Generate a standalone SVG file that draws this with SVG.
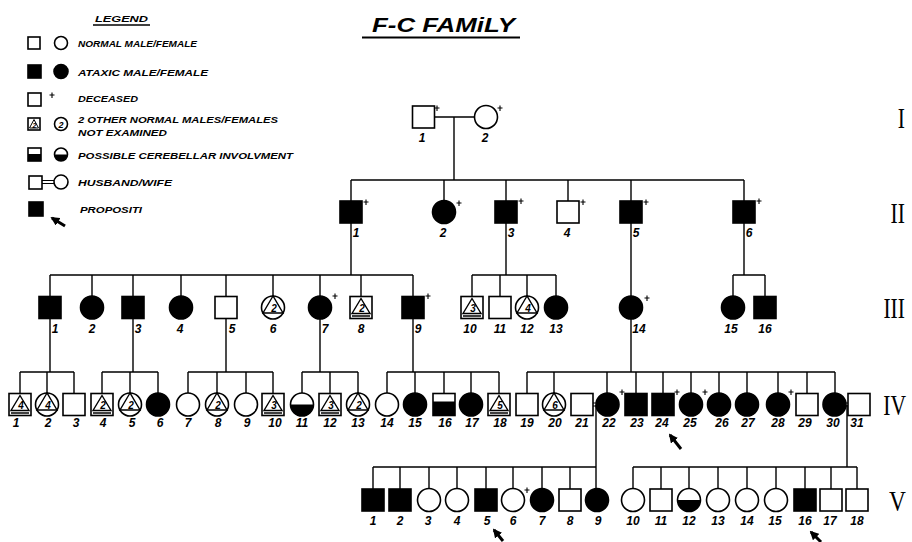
<svg xmlns="http://www.w3.org/2000/svg" width="912" height="542" viewBox="0 0 912 542">
<style>
.ln{stroke:#000;stroke-width:1.4;fill:none}
.o{fill:#fff;stroke:#000;stroke-width:1.6}
.f{fill:#000;stroke:#000;stroke-width:1.6}
.dm{stroke:#000;stroke-width:1.1;fill:none}
.lbl{font-family:"Liberation Sans",Arial,sans-serif;font-style:italic;font-weight:bold;font-size:12px;text-anchor:middle;fill:#000}
.num{font-family:"Liberation Sans",Arial,sans-serif;font-style:italic;font-weight:bold;font-size:10px;text-anchor:middle;fill:#000}
.leg{font-family:"Liberation Sans",Arial,sans-serif;font-style:italic;font-weight:bold;font-size:9.5px;fill:#000}
.rom{font-family:"Liberation Serif","Times New Roman",serif;font-size:30px;text-anchor:end;fill:#000}
.ttl{font-family:"Liberation Sans",Arial,sans-serif;font-style:italic;font-weight:bold;font-size:21px;fill:#000}
.arr{stroke:#000;stroke-width:3;fill:none}
</style>
<defs>
<rect id="sq" class="o" x="-11" y="-11" width="22" height="22"/>
<rect id="sqA" class="f" x="-11" y="-11" width="22" height="22"/>
<circle id="ci" class="o" r="11.5"/>
<circle id="ciA" class="f" r="11.5"/>
<g id="tsq"><rect class="o" x="-11" y="-11" width="22" height="22"/><path class="ln" d="M0,-9 L-9,6 L9,6 Z M-9,8.5 H9"/></g>
<g id="tci"><circle class="o" r="11.5"/><path class="ln" d="M0,-11.5 L-10,5.5 L10,5.5 Z"/></g>
<g id="hci"><circle class="o" r="11.5"/><path fill="#000" d="M-11.5,0 A11.5,11.5 0 0 0 11.5,0 Z"/></g>
<g id="hsq"><rect class="o" x="-11" y="-11" width="22" height="22"/><rect fill="#000" x="-11" y="-3" width="22" height="14"/></g>
<path id="dec" class="dm" d="M-2.5,0 H2.5 M0,-2.5 V3"/>
<marker id="ah" viewBox="0 0 10 10" refX="8" refY="5" markerWidth="3" markerHeight="3" orient="auto"><path d="M0,0 L10,5 L0,10 Z" fill="#000"/></marker>
</defs>

<!-- Legend -->
<g id="legend">
<text class="leg" x="95" y="22" textLength="53" lengthAdjust="spacingAndGlyphs">LEGEND</text>
<path class="ln" d="M93,25 H150"/>
<rect class="o" x="28" y="37" width="12" height="12"/><circle class="o" cx="61" cy="43" r="6.5"/>
<text class="leg" x="78" y="47" textLength="119" lengthAdjust="spacingAndGlyphs">NORMAL MALE/FEMALE</text>
<rect class="f" x="28" y="65" width="13" height="13"/><circle class="f" cx="61" cy="71.5" r="7"/>
<text class="leg" x="78" y="76" textLength="130" lengthAdjust="spacingAndGlyphs">ATAXIC MALE/FEMALE</text>
<rect class="o" x="28" y="93" width="13" height="13"/><use href="#dec" x="52" y="95"/>
<text class="leg" x="78" y="102" textLength="60" lengthAdjust="spacingAndGlyphs">DECEASED</text>
<rect class="o" x="28" y="118" width="12" height="12"/><path class="ln" d="M34,119.5 L29.5,128 H38.5 Z" style="stroke-width:1"/>
<text class="num" x="34.5" y="127.5" style="font-size:7px">2</text>
<circle class="o" cx="61" cy="124" r="6.5"/><text class="num" x="61" y="127.5" style="font-size:9px">2</text>
<text class="leg" x="78" y="123" textLength="200" lengthAdjust="spacingAndGlyphs">2 OTHER NORMAL MALES/FEMALES</text>
<text class="leg" x="78" y="136" textLength="89" lengthAdjust="spacingAndGlyphs">NOT EXAMINED</text>
<rect class="o" x="28" y="148" width="13" height="13"/><rect fill="#000" x="28" y="154" width="13" height="7"/>
<circle class="o" cx="61" cy="154.5" r="6.5"/><path fill="#000" d="M54.5,154.5 A6.5,6.5 0 0 0 67.5,154.5 Z"/>
<text class="leg" x="78" y="159" textLength="215" lengthAdjust="spacingAndGlyphs">POSSIBLE CEREBELLAR INVOLVMENT</text>
<rect class="o" x="29" y="176" width="13" height="13"/><path class="ln" d="M42,180.5 H54 M42,183.5 H54" style="stroke-width:1.1"/><circle class="o" cx="61" cy="182" r="7"/>
<text class="leg" x="78" y="186" textLength="94" lengthAdjust="spacingAndGlyphs">HUSBAND/WIFE</text>
<rect class="f" x="29" y="202" width="14" height="14"/>
<path class="arr" d="M65,226 L52,218" marker-end="url(#ah)"/>
<text class="leg" x="80" y="213" textLength="62" lengthAdjust="spacingAndGlyphs">PROPOSITI</text>
</g>

<!-- Title -->
<g id="title">
<text class="ttl" x="372" y="32" textLength="143" lengthAdjust="spacingAndGlyphs">F-C FAMiLY</text>
<path d="M362,37.5 H520" stroke="#000" stroke-width="2"/>
</g>

<!-- Generation labels -->
<g id="generations">
<text class="rom" transform="translate(905,128) scale(0.72,1)">I</text>
<text class="rom" transform="translate(905,223) scale(0.72,1)">II</text>
<text class="rom" transform="translate(905,318) scale(0.72,1)">III</text>
<text class="rom" transform="translate(906,415) scale(0.72,1)">IV</text>
<text class="rom" transform="translate(906,511) scale(0.78,1)">V</text>
</g>

<!-- Connectors -->
<g id="connectors" class="ln">
<path d="M434,117 H475 M454,117 V180"/>
<path d="M351,180 H744 M351,180 V201 M444,180 V201 M506,180 V201 M568,180 V201 M631,180 V201 M744,180 V201"/>
<path d="M351,223 V275 M506,223 V275 M631,223 V296 M744,223 V275"/>
<path d="M50,275 H413 M50,275 V297 M92,275 V296 M133,275 V297 M181,275 V296 M226,275 V297 M273,275 V296 M320,275 V296 M361,275 V297 M413,275 V297"/>
<path d="M472,275 H556 M472,275 V297 M500,275 V297 M527,275 V296 M556,275 V296"/>
<path d="M733,275 H765 M733,275 V296 M765,275 V297"/>
<path d="M50,318 V372 M133,318 V372 M226,318 V372 M320,319 V372 M413,318 V372 M631,319 V372"/>
<path d="M20,372 H74 M20,372 V394 M47,372 V393 M74,372 V394"/>
<path d="M102,372 H158 M102,372 V394 M130,372 V393 M158,372 V393"/>
<path d="M188,372 H273 M188,372 V393 M217,372 V393 M246,372 V393 M273,372 V394"/>
<path d="M302,372 H358 M302,372 V393 M330,372 V394 M358,372 V393"/>
<path d="M387,372 H499 M387,372 V393 M415,372 V393 M444,372 V394 M471,372 V393 M499,372 V394"/>
<path d="M527,372 H835 M527,372 V394 M554,372 V393 M607,372 V393 M636,372 V394 M663,372 V394 M691,372 V393 M719,372 V393 M747,372 V393 M778,372 V393 M807,372 V394 M835,372 V393"/>
<path d="M593,403 H596 M593,406 H596 M846,403 H848 M846,406 H848" style="stroke-width:1.1"/>
<path d="M596,405 V467 M847,405 V467"/>
<path d="M373,467 H596 M373,467 V489 M400,467 V489 M429,467 V488 M457,467 V488 M486,467 V489 M513,467 V488 M542,467 V488 M570,467 V489 M596,467 V488"/>
<path d="M633,467 H857 M633,467 V488 M661,467 V489 M689,467 V488 M718,467 V488 M747,467 V488 M776,467 V488 M805,467 V489 M831,467 V489 M857,467 V489"/>
<path class="arr" d="M681,449 L670,435" marker-end="url(#ah)"/>
<path class="arr" d="M503,541 L494,530" marker-end="url(#ah)"/>
<path class="arr" d="M821,542 L811,532" marker-end="url(#ah)"/>
</g>

<!-- Generation I -->
<g id="I-1"><use href="#sq" x="423.5" y="117"/><use href="#dec" x="437" y="108"/><text class="lbl" x="422" y="142">1</text></g>
<g id="I-2"><use href="#ci" x="486" y="117"/><use href="#dec" x="500" y="108"/><text class="lbl" x="485" y="142">2</text></g>

<!-- Generation II -->
<g id="II-1"><use href="#sqA" x="351" y="212"/><use href="#dec" x="366" y="202"/><text class="lbl" x="356" y="237">1</text></g>
<g id="II-2"><use href="#ciA" x="444" y="212"/><use href="#dec" x="459" y="203"/><text class="lbl" x="443" y="237">2</text></g>
<g id="II-3"><use href="#sqA" x="506" y="212"/><use href="#dec" x="521" y="201"/><text class="lbl" x="511" y="237">3</text></g>
<g id="II-4"><use href="#sq" x="568" y="212"/><use href="#dec" x="583" y="202"/><text class="lbl" x="567" y="237">4</text></g>
<g id="II-5"><use href="#sqA" x="631" y="212"/><use href="#dec" x="646" y="202"/><text class="lbl" x="636" y="237">5</text></g>
<g id="II-6"><use href="#sqA" x="744" y="212"/><use href="#dec" x="759" y="201"/><text class="lbl" x="749" y="237">6</text></g>

<!-- Generation III -->
<g id="III-1"><use href="#sqA" x="50" y="307.5"/><text class="lbl" x="55" y="333">1</text></g>
<g id="III-2"><use href="#ciA" x="92" y="307.5"/><text class="lbl" x="92" y="333">2</text></g>
<g id="III-3"><use href="#sqA" x="133" y="307.5"/><text class="lbl" x="138" y="333">3</text></g>
<g id="III-4"><use href="#ciA" x="181" y="307.5"/><text class="lbl" x="180" y="333">4</text></g>
<g id="III-5"><use href="#sq" x="226" y="307.5"/><text class="lbl" x="232" y="333">5</text></g>
<g id="III-6"><use href="#tci" x="273" y="307.5"/><text class="num" x="274" y="312">2</text><text class="lbl" x="273" y="333">6</text></g>
<g id="III-7"><use href="#ciA" x="320" y="307.5"/><use href="#dec" x="335" y="296"/><text class="lbl" x="325" y="333">7</text></g>
<g id="III-8"><use href="#tsq" x="361" y="307.5"/><text class="num" x="362" y="312">2</text><text class="lbl" x="361" y="333">8</text></g>
<g id="III-9"><use href="#sqA" x="413" y="307.5"/><use href="#dec" x="428" y="296"/><text class="lbl" x="418" y="333">9</text></g>
<g id="III-10"><use href="#tsq" x="472" y="307.5"/><text class="num" x="473" y="312">3</text><text class="lbl" x="470" y="333">10</text></g>
<g id="III-11"><use href="#sq" x="500" y="307.5"/><text class="lbl" x="500" y="333">11</text></g>
<g id="III-12"><use href="#tci" x="527" y="307.5"/><text class="num" x="528" y="312">4</text><text class="lbl" x="527" y="333">12</text></g>
<g id="III-13"><use href="#ciA" x="556" y="307.5"/><text class="lbl" x="556" y="333">13</text></g>
<g id="III-14"><use href="#ciA" x="631" y="307.5"/><use href="#dec" x="647" y="298"/><text class="lbl" x="639" y="333">14</text></g>
<g id="III-15"><use href="#ciA" x="733" y="307.5"/><text class="lbl" x="731" y="333">15</text></g>
<g id="III-16"><use href="#sqA" x="765" y="307.5"/><text class="lbl" x="765" y="333">16</text></g>

<!-- Generation IV -->
<g id="IV-1"><use href="#tsq" x="20" y="404.5"/><text class="num" x="21" y="409">4</text><text class="lbl" x="16" y="427">1</text></g>
<g id="IV-2"><use href="#tci" x="47" y="404.5"/><text class="num" x="48" y="409">4</text><text class="lbl" x="48" y="427">2</text></g>
<g id="IV-3"><use href="#sq" x="74" y="404.5"/><text class="lbl" x="76" y="427">3</text></g>
<g id="IV-4"><use href="#tsq" x="102" y="404.5"/><text class="num" x="103" y="409">2</text><text class="lbl" x="103" y="427">4</text></g>
<g id="IV-5"><use href="#tci" x="130" y="404.5"/><text class="num" x="131" y="409">2</text><text class="lbl" x="132" y="427">5</text></g>
<g id="IV-6"><use href="#ciA" x="158" y="404.5"/><text class="lbl" x="160" y="427">6</text></g>
<g id="IV-7"><use href="#ci" x="188" y="404.5"/><text class="lbl" x="188" y="427">7</text></g>
<g id="IV-8"><use href="#tci" x="217" y="404.5"/><text class="num" x="218" y="409">2</text><text class="lbl" x="218" y="427">8</text></g>
<g id="IV-9"><use href="#ci" x="246" y="404.5"/><text class="lbl" x="247" y="427">9</text></g>
<g id="IV-10"><use href="#tsq" x="273" y="404.5"/><text class="num" x="274" y="409">3</text><text class="lbl" x="275" y="427">10</text></g>
<g id="IV-11"><use href="#hci" x="302" y="404.5"/><text class="lbl" x="302" y="427">11</text></g>
<g id="IV-12"><use href="#tsq" x="330" y="404.5"/><text class="num" x="331" y="409">3</text><text class="lbl" x="330" y="427">12</text></g>
<g id="IV-13"><use href="#tci" x="358" y="404.5"/><text class="num" x="359" y="409">2</text><text class="lbl" x="358" y="427">13</text></g>
<g id="IV-14"><use href="#ci" x="387" y="404.5"/><text class="lbl" x="387" y="427">14</text></g>
<g id="IV-15"><use href="#ciA" x="415" y="404.5"/><text class="lbl" x="415" y="427">15</text></g>
<g id="IV-16"><use href="#hsq" x="444" y="404.5"/><text class="lbl" x="445" y="427">16</text></g>
<g id="IV-17"><use href="#ciA" x="471" y="404.5"/><text class="lbl" x="472" y="427">17</text></g>
<g id="IV-18"><use href="#tsq" x="499" y="404.5"/><text class="num" x="500" y="409">5</text><text class="lbl" x="500" y="427">18</text></g>
<g id="IV-19"><use href="#sq" x="527" y="404.5"/><text class="lbl" x="527" y="427">19</text></g>
<g id="IV-20"><use href="#tci" x="554" y="404.5"/><text class="num" x="555" y="409">6</text><text class="lbl" x="555" y="427">20</text></g>
<g id="IV-21"><use href="#sq" x="582" y="404.5"/><text class="lbl" x="582" y="427">21</text></g>
<g id="IV-22"><use href="#ciA" x="607.5" y="404.5"/><use href="#dec" x="622" y="392"/><text class="lbl" x="609" y="427">22</text></g>
<g id="IV-23"><use href="#sqA" x="636" y="404.5"/><text class="lbl" x="637" y="427">23</text></g>
<g id="IV-24"><use href="#sqA" x="663" y="404.5"/><use href="#dec" x="677" y="392"/><text class="lbl" x="662" y="427">24</text></g>
<g id="IV-25"><use href="#ciA" x="691" y="404.5"/><use href="#dec" x="705" y="392"/><text class="lbl" x="690" y="427">25</text></g>
<g id="IV-26"><use href="#ciA" x="719" y="404.5"/><text class="lbl" x="722" y="427">26</text></g>
<g id="IV-27"><use href="#ciA" x="747" y="404.5"/><text class="lbl" x="748" y="427">27</text></g>
<g id="IV-28"><use href="#ciA" x="778" y="404.5"/><use href="#dec" x="791" y="392"/><text class="lbl" x="778" y="427">28</text></g>
<g id="IV-29"><use href="#sq" x="807" y="404.5"/><text class="lbl" x="805" y="427">29</text></g>
<g id="IV-30"><use href="#ciA" x="834.5" y="404.5"/><text class="lbl" x="833" y="427">30</text></g>
<g id="IV-31"><use href="#sq" x="859" y="404.5"/><text class="lbl" x="857" y="427">31</text></g>

<!-- Generation V -->
<g id="V-1"><use href="#sqA" x="373" y="500"/><text class="lbl" x="373" y="525">1</text></g>
<g id="V-2"><use href="#sqA" x="400" y="500"/><text class="lbl" x="400" y="525">2</text></g>
<g id="V-3"><use href="#ci" x="429" y="500"/><text class="lbl" x="428" y="525">3</text></g>
<g id="V-4"><use href="#ci" x="457" y="500"/><text class="lbl" x="457" y="525">4</text></g>
<g id="V-5"><use href="#sqA" x="486" y="500"/><text class="lbl" x="487" y="525">5</text></g>
<g id="V-6"><use href="#ci" x="513" y="500"/><use href="#dec" x="527" y="490"/><text class="lbl" x="513" y="525">6</text></g>
<g id="V-7"><use href="#ciA" x="542" y="500"/><text class="lbl" x="542" y="525">7</text></g>
<g id="V-8"><use href="#sq" x="570" y="500"/><text class="lbl" x="570" y="525">8</text></g>
<g id="V-9"><use href="#ciA" x="597" y="500"/><text class="lbl" x="598" y="525">9</text></g>
<g id="V-10"><use href="#ci" x="633" y="500"/><text class="lbl" x="633" y="525">10</text></g>
<g id="V-11"><use href="#sq" x="661" y="500"/><text class="lbl" x="661" y="525">11</text></g>
<g id="V-12"><use href="#hci" x="689" y="500"/><text class="lbl" x="689" y="525">12</text></g>
<g id="V-13"><use href="#ci" x="718" y="500"/><text class="lbl" x="718" y="525">13</text></g>
<g id="V-14"><use href="#ci" x="747" y="500"/><text class="lbl" x="747" y="525">14</text></g>
<g id="V-15"><use href="#ci" x="776" y="500"/><text class="lbl" x="775" y="525">15</text></g>
<g id="V-16"><use href="#sqA" x="805" y="500"/><text class="lbl" x="805" y="525">16</text></g>
<g id="V-17"><use href="#sq" x="831" y="500"/><text class="lbl" x="830" y="525">17</text></g>
<g id="V-18"><use href="#sq" x="857" y="500"/><text class="lbl" x="857" y="525">18</text></g>
</svg>
